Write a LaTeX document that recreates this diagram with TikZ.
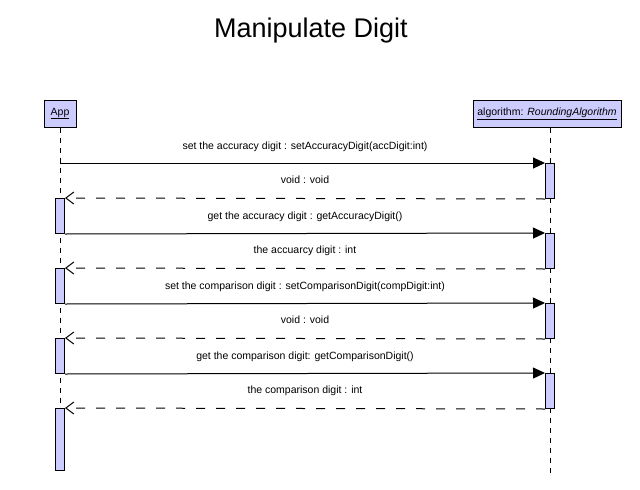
\documentclass[tikz,border=0pt]{standalone}
\usepackage{fontspec}
\setmainfont{Liberation Sans}
\usetikzlibrary{arrows.meta}
\definecolor{actfill}{RGB}{204,204,255}
\begin{document}
\begin{tikzpicture}[x=1pt,y=-1pt,
 objbox/.style={draw, fill=actfill, line width=1pt, inner sep=0pt, font=\fontsize{10.5}{12}\selectfont},
 actbar/.style={draw, fill=actfill, line width=1pt, minimum width=9pt, inner sep=0pt, anchor=north},
 lifeline/.style={line width=1pt, dash pattern=on 5pt off 5pt},
 callmsg/.style={line width=1pt, -{Triangle[length=12pt,width=11pt]}},
 retmsg/.style={line width=1pt, dash pattern=on 9pt off 11pt, -{Straight Barb[length=8pt,width=12pt,line width=1pt]}},
 msglabel/.style={font=\fontsize{10.5}{12}\selectfont, anchor=base, inner sep=0pt},
]
\path[use as bounding box] (0,0) rectangle (640,490);

\node[font=\fontsize{27}{30}\selectfont, anchor=base, inner sep=0pt] (title) at (311,37) {Manipulate Digit};

\node[objbox, minimum width=32pt, minimum height=27pt] (app) at (60,113.5) {\underline{App}};
\node[objbox, minimum width=148pt, minimum height=27pt] (alg) at (547,113.5) {\underline{algorithm: \textit{RoundingAlgorithm}}};

\coordinate (append) at (60,470);
\coordinate (algend) at (550,475);

\draw[lifeline] (app.south) -- (append);
\draw[lifeline] (alg.south -| algend) -- (algend);

% activation bars
\node[actbar, minimum height=35pt] (ra1) at (550,163) {};
\node[actbar, minimum height=35pt] (ra2) at (550,233) {};
\node[actbar, minimum height=35pt] (ra3) at (550,303) {};
\node[actbar, minimum height=35pt] (ra4) at (550,373) {};
\node[actbar, minimum height=35pt] (la1) at (60,198) {};
\node[actbar, minimum height=35pt] (la2) at (60,268) {};
\node[actbar, minimum height=35pt] (la3) at (60,338) {};
\node[actbar, minimum height=62pt] (la4) at (60,408) {};

% messages
\draw[callmsg] (ra1.north west -| app.south) -- (ra1.north west);
\draw[retmsg] (ra1.south west) -- (la1.north east);
\draw[callmsg] (la1.south east) -- (ra2.north west);
\draw[retmsg] (ra2.south west) -- (la2.north east);
\draw[callmsg] (la2.south east) -- (ra3.north west);
\draw[retmsg] (ra3.south west) -- (la3.north east);
\draw[callmsg] (la3.south east) -- (ra4.north west);
\draw[retmsg] (ra4.south west) -- (la4.north east);

% labels
\node[msglabel] (l1) at (305,149) {set the accuracy digit : setAccuracyDigit(accDigit:int)};
\node[msglabel] (l2) at (305,183) {void : void};
\node[msglabel] (l3) at (305,219) {get the accuracy digit : getAccuracyDigit()};
\node[msglabel] (l4) at (305,253) {the accuarcy digit : int};
\node[msglabel] (l5) at (305,289) {set the comparison digit : setComparisonDigit(compDigit:int)};
\node[msglabel] (l6) at (305,323) {void : void};
\node[msglabel] (l7) at (305,359) {get the comparison digit: getComparisonDigit()};
\node[msglabel] (l8) at (305,393) {the comparison digit : int};
\end{tikzpicture}
\end{document}
